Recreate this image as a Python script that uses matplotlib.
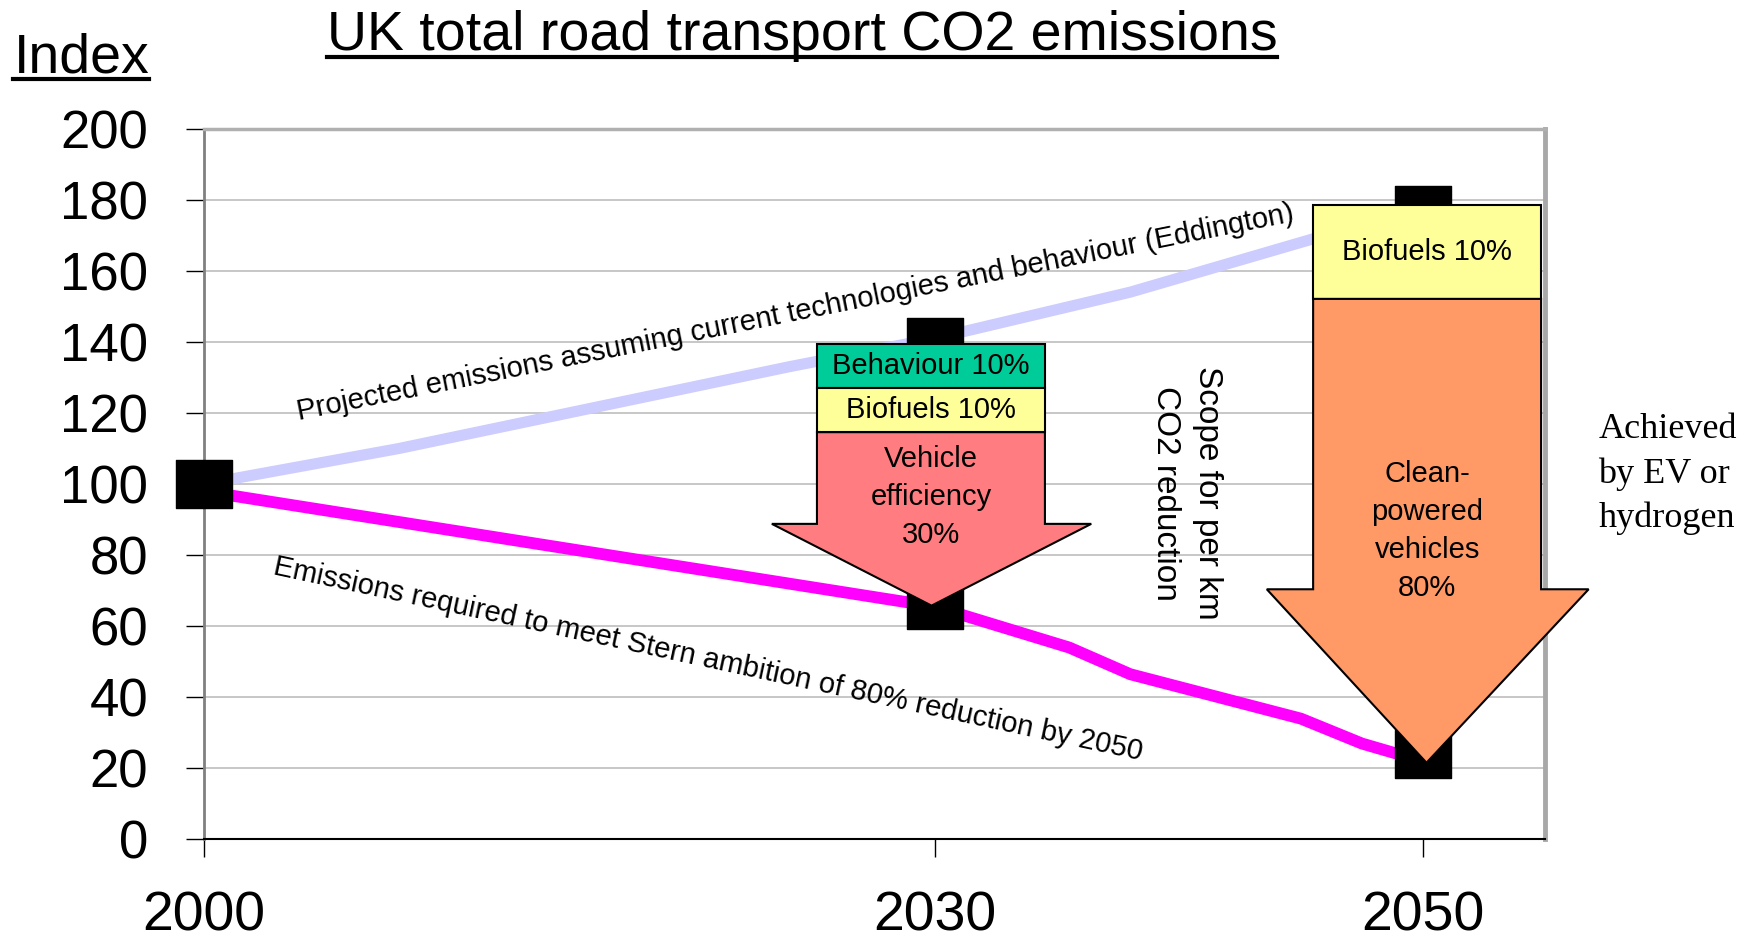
import matplotlib
matplotlib.use('Agg')
import matplotlib.pyplot as plt
from matplotlib.patches import Polygon, Rectangle
from matplotlib.path import Path
from matplotlib.lines import Line2D

# ---------------------------------------------------------------
# data
# ---------------------------------------------------------------
proj_years = [2000, 2008, 2024, 2030, 2038, 2050]
proj_index = [100, 110, 133, 141, 154, 178]

stern_years = [2000, 2030, 2035.5, 2038, 2045, 2047.5, 2050]
stern_index = [98, 65.5, 54, 46.5, 34, 27, 22]

marker_years = [2000, 2030, 2030, 2050, 2050]
marker_index = [100, 140, 66, 177, 24]

xtick_years = [2000, 2030, 2050]
ytick_vals = list(range(0, 201, 20))

proj_label = 'Projected emissions assuming current technologies and behaviour (Eddington)'
stern_label = 'Emissions required to meet Stern ambition of 80% reduction by 2050'

arrow1_labels = ['Behaviour 10%', 'Biofuels 10%', 'Vehicle\nefficiency\n30%']
arrow1_colors = ['#00CC99', '#FFFF99', '#FF7C80']
arrow2_labels = ['Biofuels 10%', 'Clean-\npowered\nvehicles\n80%']
arrow2_colors = ['#FFFF99', '#FF9966']

W, H = 1755, 946
plt.rcParams['font.family'] = ['Liberation Sans', 'DejaVu Sans']

fig = plt.figure(figsize=(W / 100, H / 100), dpi=100)
ax = fig.add_axes([0.1161, 0.1126, 0.7641, 0.7514])
ax.set_xlim(2000, 2055)
ax.set_ylim(0, 200)

# grid + frame
for v in ytick_vals[1:-1]:
    ax.axhline(v, color='#B8B8B8', lw=1.1, zorder=0.5)
ax.spines['left'].set_color('#808080')
ax.spines['left'].set_linewidth(2)
ax.spines['top'].set_color('#B0B0B0')
ax.spines['top'].set_linewidth(2.5)
ax.spines['right'].set_color('#A8A8A8')
ax.spines['right'].set_linewidth(3.5)
ax.spines['bottom'].set_color('black')
ax.spines['bottom'].set_linewidth(1.5)

ax.set_yticks(ytick_vals)
ax.set_yticklabels([str(v) for v in ytick_vals], fontsize=38)
ax.set_xticks(xtick_years)
ax.set_xticklabels([str(v) for v in xtick_years], fontsize=40)
ax.tick_params(axis='y', length=13, width=1, pad=27)
ax.tick_params(axis='x', length=13, width=1, pad=24)

# lines
ax.plot(proj_years, proj_index, color='#CCCCFF', lw=8, solid_capstyle='butt', zorder=2)
ax.plot(stern_years, stern_index, color='#FF00FF', lw=8.5, solid_capstyle='butt', zorder=2)

# black square markers (slightly wider than tall)
rect_marker = Path([(-0.57, -0.5), (0.57, -0.5), (0.57, 0.5), (-0.57, 0.5), (-0.57, -0.5)],
                   [Path.MOVETO, Path.LINETO, Path.LINETO, Path.LINETO, Path.CLOSEPOLY])
ax.plot(marker_years, marker_index, ls='none', marker=rect_marker, markersize=40,
        color='black', zorder=3, clip_on=False)


def draw_arrow(x0, x1, hx0, hx1, tip, shoulder, tops, colors, labels, body_label_y):
    xc = (x0 + x1) / 2
    # rectangular bands above the arrow body
    for i in range(len(tops) - 1):
        ax.add_patch(Rectangle((x0, tops[i + 1]), x1 - x0, tops[i] - tops[i + 1],
                               facecolor=colors[i], edgecolor='black', lw=1.5,
                               zorder=4, clip_on=False))
        ax.text(xc, (tops[i] + tops[i + 1]) / 2, labels[i], ha='center', va='center',
                fontsize=21, zorder=5)
    top = tops[-1]
    pts = [(x0, top), (x1, top), (x1, shoulder), (hx1, shoulder), tip,
           (hx0, shoulder), (x0, shoulder)]
    ax.add_patch(Polygon(pts, closed=True, facecolor=colors[-1], edgecolor='black',
                         lw=1.5, zorder=4, clip_on=False))
    ax.text(xc, body_label_y, labels[-1], ha='center', va='center', fontsize=21,
            linespacing=1.45, zorder=5)


draw_arrow(2025.15, 2034.5, 2023.3, 2036.4, (2029.85, 65.8), 88.8,
           [139.5, 126.9, 114.6], arrow1_colors, arrow1_labels, 96.4)
draw_arrow(2045.5, 2054.85, 2043.6, 2056.8, (2050.15, 21.6), 70.4,
           [178.4, 152.1], arrow2_colors, arrow2_labels, 86.8)

# line annotations
ax.text(2024.35, 145.9, proj_label, rotation=11.3, rotation_mode='anchor',
        ha='center', va='baseline', fontsize=21, zorder=5)
ax.text(2020.6, 48.6, stern_label, rotation=-12.1, rotation_mode='anchor',
        ha='center', va='baseline', fontsize=21, zorder=5)
ax.text(2040.3, 97.4, 'Scope for per km\nCO2 reduction', rotation=-90,
        ha='center', va='center', fontsize=24, linespacing=1.45, zorder=5)

fig.text(1598.4 / W, 1 - 474 / H, 'Achieved\nby EV or\nhydrogen', ha='left', va='center',
         fontsize=26, family=['Liberation Serif', 'DejaVu Serif'], linespacing=1.45)

# title and axis label, both underlined
title_y = 1 - 50.4 / H
index_y = 1 - 72.8 / H
t1 = fig.text(326.8 / W, title_y, 'UK total road transport CO2 emissions',
              ha='left', va='baseline', fontsize=40)
t2 = fig.text(13.4 / W, index_y, 'Index', ha='left', va='baseline', fontsize=40)

fig.canvas.draw()
for t, y in [(t1, title_y), (t2, index_y)]:
    bb = t.get_window_extent()
    uy = y - 6.5 / H
    fig.add_artist(Line2D([bb.x0 / W, bb.x1 / W], [uy, uy], transform=fig.transFigure,
                          color='black', lw=3))

fig.savefig('out.png', dpi=100)
